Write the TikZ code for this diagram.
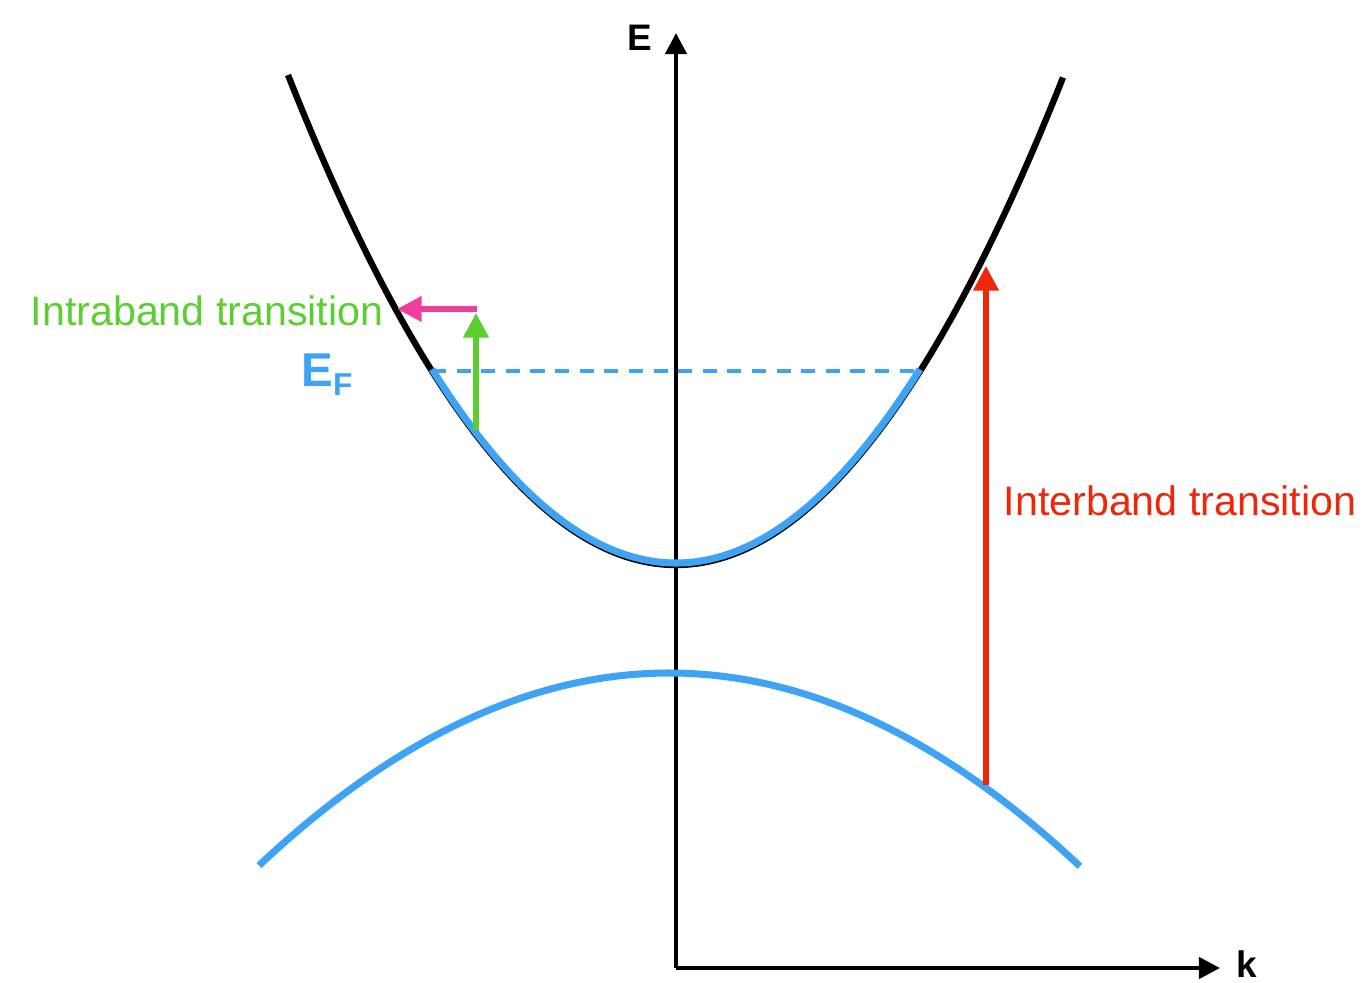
\documentclass[tikz,border=0pt]{standalone}
\usepackage{fontspec}
\setmainfont{Liberation Sans}
\usetikzlibrary{arrows.meta}
\definecolor{cblue}{RGB}{62,162,245}
\definecolor{cgreen}{RGB}{92,206,50}
\definecolor{cpink}{RGB}{240,62,156}
\definecolor{cred}{RGB}{238,38,10}
\tikzset{
  axis/.style={line width=1.2pt,-{Triangle[length=6pt,width=6pt]}},
  band/.style={line width=1.8pt},
  trans/.style={line width=1.5pt,-{Triangle[length=7pt,width=7pt]}},
  lab/.style={inner sep=0pt,font=\fontsize{11.7pt}{13pt}\selectfont}
}
\begin{document}
\begin{tikzpicture}[x=0.01cm,y=-0.01cm]
\useasboundingbox (0,0) rectangle (1367,982);
% axes
\coordinate (O) at (676,968);
\coordinate (Etop) at (676,33);
\coordinate (kend) at (1220,968);
\draw[axis] (O) -- (Etop);
\draw[axis] (O) -- (kend);
\node[inner sep=0pt,font=\bfseries\fontsize{10.5pt}{12pt}\selectfont] (Elab) at (640,38) {E};
\node[inner sep=0pt,font=\bfseries\fontsize{10.5pt}{12pt}\selectfont] (klab) at (1247,964) {k};
% upper band
\draw[band,black] plot[domain=-3.88:3.87,samples=120,smooth] ({676+100*\x},{565-32.55*\x*\x});
\draw[band,cblue,line width=2pt,yshift=0.02cm] plot[domain=-2.44:2.44,samples=100,smooth] ({676+100*\x},{565-32.55*\x*\x});
% lower band
\draw[band,cblue,line width=2pt] plot[domain=-4.10:4.11,samples=120,smooth] ({669+100*\x},{673+11.45*\x*\x});
% Fermi level
\coordinate (efL) at (432,371);
\coordinate (efR) at (920,371);
\draw[cblue,line width=0.9pt,dash pattern=on 4pt off 3pt] (efL) -- (efR);
\node[inner sep=0pt,text=cblue,font=\bfseries\fontsize{13.5pt}{15pt}\selectfont] (EF) at (327,375) {E\raisebox{-0.35ex}{\fontsize{9pt}{10pt}\selectfont F}};
% intraband transition
\coordinate (g0) at (476,430);
\coordinate (g1) at (476,313);
\draw[trans,cgreen] (g0) -- (g1);
\coordinate (p0) at (477,309);
\coordinate (p1) at (397,309);
\draw[trans,cpink] (p0) -- (p1);
\node[lab,text=cgreen] (intra) at (207,311) {Intraband transition};
% interband transition
\coordinate (r0) at (986,785);
\coordinate (r1) at (986,266);
\draw[trans,cred] (r0) -- (r1);
\node[lab,text=cred] (inter) at (1180,501) {Interband transition};
\end{tikzpicture}
\end{document}
